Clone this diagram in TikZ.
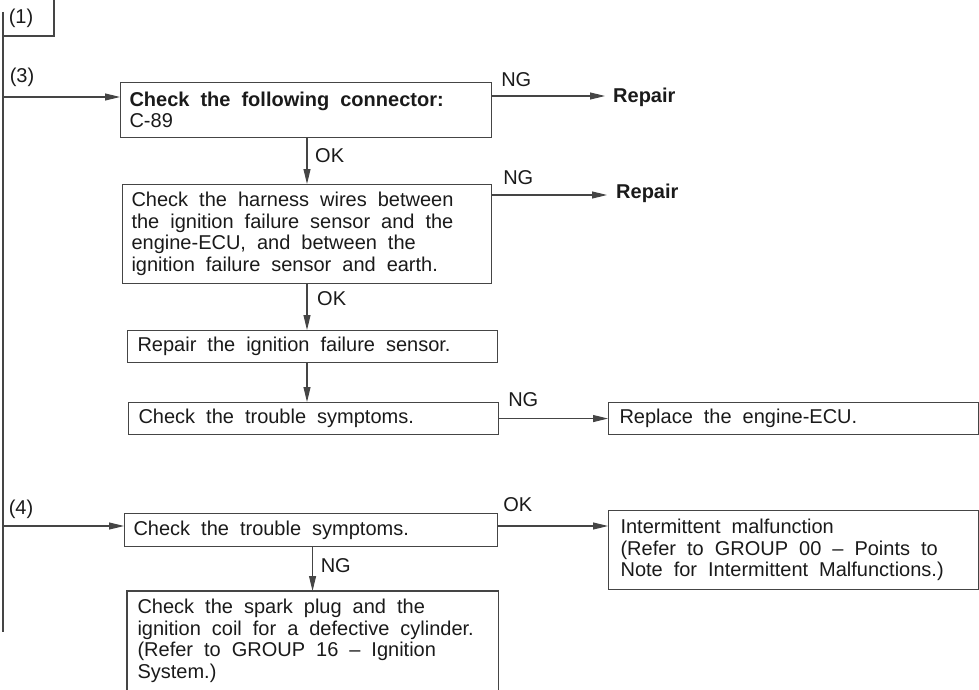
\documentclass[tikz,border=0pt]{standalone}
\usepackage{fontspec}
\setmainfont{Liberation Sans}
\usetikzlibrary{arrows.meta,calc}
\definecolor{linegray}{HTML}{454545}
\definecolor{inkgray}{HTML}{1A1A1A}
% body type: 20pt sans with wide interword spacing
\newcommand{\boxfont}{\fontsize{20}{21.5}\selectfont\fontdimen2\font=11pt\relax}
\newcommand{\boxbold}{\fontsize{20}{21.5}\selectfont\bfseries\fontdimen2\font=11pt\relax}

\begin{document}
\begin{tikzpicture}[x=1pt,y=-1pt,
  txt/.style={font=\boxfont, text=inkgray},
  box/.style={txt, draw=linegray, line width=1.1pt, anchor=north west,
    inner xsep=9pt, inner ysep=0pt, align=flush left},
  conn/.style={draw=linegray, line width=1.1pt},
  arr/.style={conn, -{Triangle[length=15pt,width=7pt]}},
  tag/.style={txt, inner sep=0pt},
  target/.style={tag, font=\boxbold, anchor=west}
]
\useasboundingbox (0,0) rectangle (979,690);
\clip (0,0) rectangle (979,690);

% left trunk and the (1) tab
\coordinate (trunkTop) at (3,12);
\coordinate (trunkBot) at (3,632);
\coordinate (tabCorner) at (54,36);
\draw[conn] (trunkTop) -- (trunkBot);
\draw[conn] (trunkTop |- tabCorner) -- (tabCorner) -- (tabCorner |- 0,0);
\node[tag] (t1) at (21,18) {(1)};
\node[tag] (t3) at (22,77) {(3)};
\node[tag] (t4) at (21,509) {(4)};

% column of the main vertical flow
\coordinate (spine) at (307,0);

% boxes
\node[box, text width=353pt, minimum height=55pt] (A) at (120,82)
  {{\boxbold Check the following connector:}\\C-89};
\node[box, text width=351pt, minimum height=99pt] (B) at (122,184)
  {Check the harness wires between\\the ignition failure sensor and the\\engine-ECU, and between the\\ignition failure sensor and earth.};
\node[box, inner xsep=10pt, text width=350pt, minimum height=32pt] (C) at (127,330)
  {Repair the ignition failure sensor.};
\node[box, inner xsep=10pt, text width=350pt, minimum height=32pt] (D) at (128,402)
  {Check the trouble symptoms.};
\node[box, inner xsep=11pt, text width=348pt, minimum height=32pt] (E) at (608,402)
  {Replace the engine-ECU.};
\node[box, text width=355pt, minimum height=33pt] (F) at (124,513)
  {Check the trouble symptoms.};
\node[box, inner xsep=12pt, text width=346pt, minimum height=79pt] (G) at (608,510)
  {Intermittent malfunction\\(Refer to GROUP 00 -- Points to\\Note for Intermittent Malfunctions.)};
\node[box, draw=none, inner xsep=10pt, text width=350pt, minimum height=99pt] (H) at (127,591)
  {Check the spark plug and the\\ignition coil for a defective cylinder.\\(Refer to GROUP 16 -- Ignition\\System.)};
\draw[conn] ([yshift=-30pt]H.south west) -- (H.north west) -- (H.north east) -- ([yshift=-30pt]H.south east);

% repair targets
\node[target, inner xsep=8pt] (R1) at (605,97) {Repair};
\node[target, inner xsep=9pt] (R2) at (607,193) {Repair};

% entry arrows from the trunk
\coordinate (aIn) at ($(A.north west)+(0,15)$);
\coordinate (fIn) at ($(F.north west)+(0,13)$);
\draw[arr] (trunkTop |- aIn) -- (aIn);
\draw[arr] (trunkTop |- fIn) -- (fIn);

% NG / OK branches to the right
\coordinate (aOut) at ($(A.north east)+(0,14)$);
\coordinate (bOut) at ($(B.north east)+(0,11)$);
\coordinate (fOut) at ($(F.north east)+(0,13)$);
\draw[arr] (aOut) -- (aOut -| R1.west);
\node[tag, anchor=west] (ngA) at ($(aOut)+(9,-16)$) {NG};
\draw[arr] (bOut) -- (bOut -| R2.west);
\node[tag, anchor=west] (ngB) at ($(bOut)+(11,-17.5)$) {NG};
\draw[arr] (D.east) -- (E.west);
\node[tag, anchor=west] (ngD) at ($(D.east)+(9,-19)$) {NG};
\draw[arr] (fOut) -- (fOut -| G.west);
\node[tag, anchor=west] (okF) at ($(fOut)+(5,-21.5)$) {OK};

% downward flow
\draw[arr] (A.south -| spine) -- (B.north -| spine);
\node[tag, anchor=west] (okA) at ($(A.south -| spine)+(8,18)$) {OK};
\draw[arr] (B.south -| spine) -- (C.north -| spine);
\node[tag, anchor=west] (okB) at ($(B.south -| spine)+(10,15)$) {OK};
\draw[arr] (C.south -| spine) -- (D.north -| spine);
\draw[arr] (F.south -| H.north) -- (H.north);
\node[tag, anchor=west] (ngF) at ($(F.south -| H.north)+(8,19)$) {NG};
\end{tikzpicture}
\end{document}
